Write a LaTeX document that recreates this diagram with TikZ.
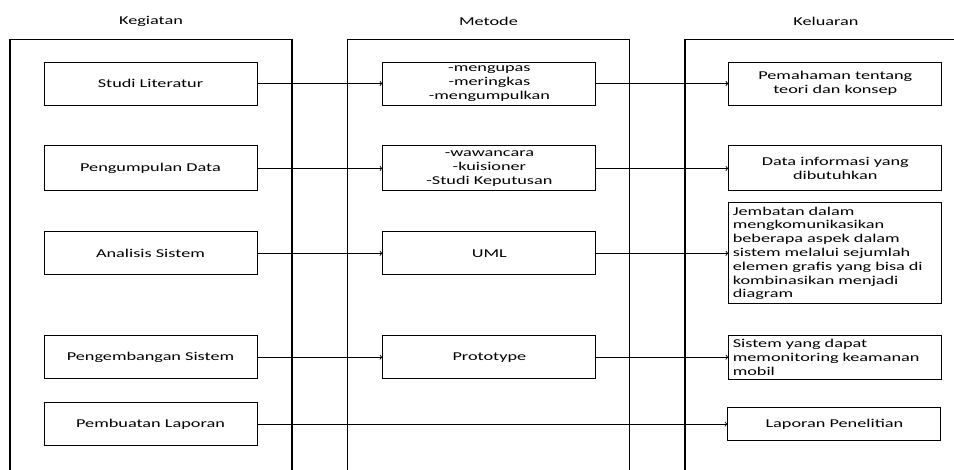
\documentclass[tikz,border=0pt]{standalone}
\usepackage{fontspec}
\setmainfont[FakeStretch=1.52]{Carlito}
\usetikzlibrary{arrows,positioning}

\begin{document}
\begin{tikzpicture}[->,>=to,x=1pt,y=-1pt,line width=0.9pt,
		font=\fontsize{12}{13.8}\selectfont]
		\tikzstyle{lane}=[draw,line width=1.2pt,minimum width=282pt,minimum height=460pt,anchor=north,inner sep=0pt]
		\tikzstyle{head}=[inner sep=0pt]
		\tikzstyle{box}=[draw,minimum width=213pt,minimum height=43pt,inner sep=1.5pt,align=center]
		\tikzstyle{note}=[box,text width=205pt,inner sep=4pt,align=left]
		
		\useasboundingbox (0,0) rectangle (954,469);
		
		\node[lane] (kegiatan) at (151,39)   {};
		\node[lane] (metode)   at (488.5,39) {};
		\node[lane] (keluaran) at (826,39)   {};
		\node[head] (hk) at ([yshift=18pt]kegiatan.north) {Kegiatan};
		\node[head] (hm) at ([yshift=18pt]metode.north)   {Metode};
		\node[head] (hl) at ([yshift=18pt]keluaran.north) {Keluaran};
		
		\node[box] (l1) at (150.5,83.5)                    {Studi Literatur};
		\node[box,minimum height=45pt] (l2) [below=40pt of l1] {Pengumpulan Data};
		\node[box] (l3) [below=40pt of l2]                  {Analisis Sistem};
		\node[box] (l4) [below=60pt of l3]                  {Pengembangan Sistem};
		\node[box] (l5) [below=23pt of l4]                  {Pembuatan Laporan};
		
		\node[box] (m1) [right=125pt of l1] {-mengupas\\-meringkas\\-mengumpulkan};
		\node[box,minimum height=45pt] (m2) [right=125pt of l2] {-wawancara\\-kuisioner\\-Studi Keputusan};
		\node[box] (m3) [right=125pt of l3] {UML};
		\node[box] (m4) [right=125pt of l4] {Prototype};
		
		\node[box]  (r1) [right=132pt of m1] {Pemahaman tentang\\teori dan konsep};
		\node[box,minimum height=45pt] (r2) [right=132pt of m2] {Data informasi yang\\dibutuhkan};
		\node[note,minimum height=100pt] (r3) [right=132pt of m3] {Jembatan dalam\\mengkomunikasikan\\beberapa aspek dalam\\sistem melalui sejumlah\\elemen grafis yang bisa di\\kombinasikan menjadi\\diagram};
		\node[note,minimum height=42pt] (r4) [right=132pt of m4] {Sistem yang dapat\\memonitoring keamanan\\mobil};
		\node[box,minimum height=33pt] (r5) [right=470pt of l5] {Laporan Penelitian};
		
		\path
		(l1) edge (m1)
		(m1) edge (r1)
		(l2) edge (m2)
		(m2) edge (r2)
		(l3) edge (m3)
		(m3) edge (r3)
		(l4) edge (m4)
		(m4) edge (r4)
		(l5) edge (r5);
\end{tikzpicture}
\end{document}
